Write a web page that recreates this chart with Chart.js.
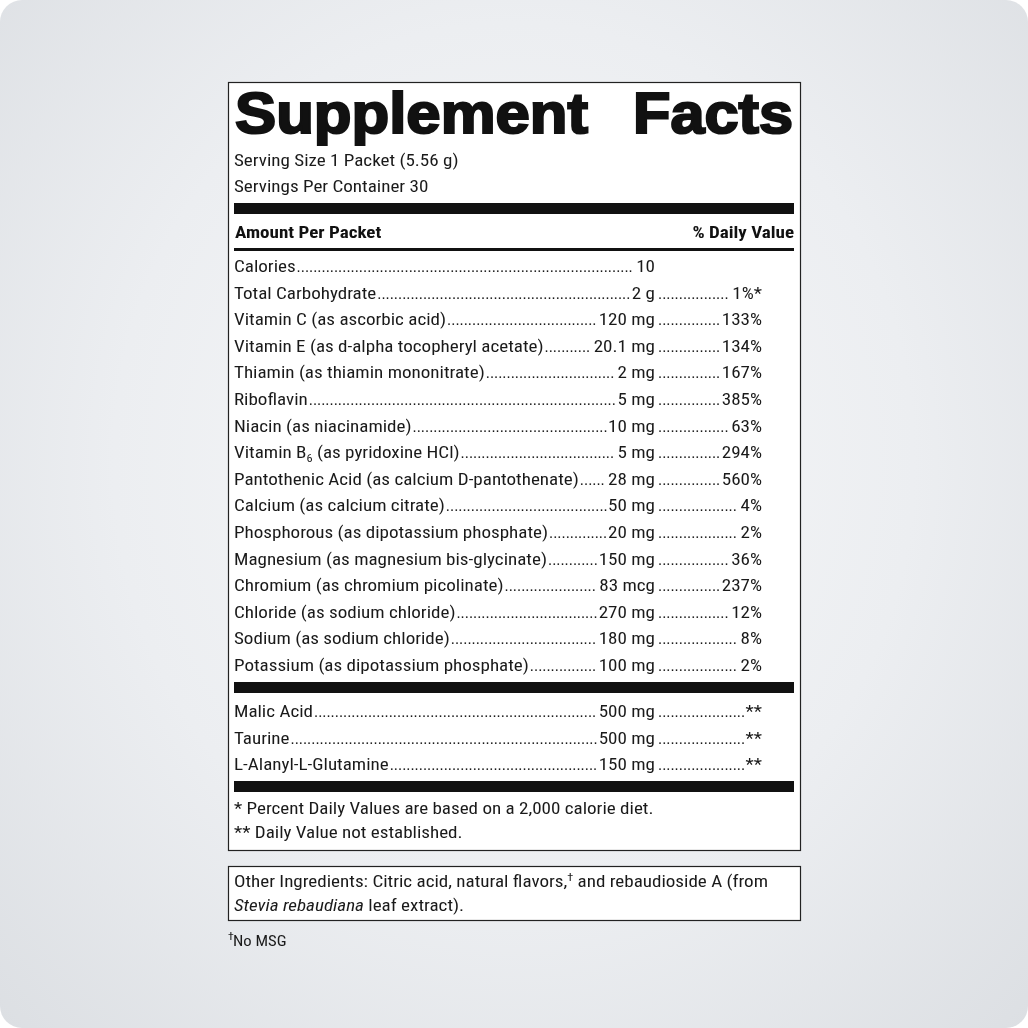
<!DOCTYPE html>
<html><head><meta charset="utf-8">
<script src="https://cdn.jsdelivr.net/npm/chart.js@4/dist/chart.umd.min.js"></script>
<style>
html,body{margin:0;padding:0;background:#fff;}
#bg{position:absolute;left:0;top:0;width:1028px;height:1028px;border-radius:22px;
background:radial-gradient(ellipse at 50% 45%,#f7f8f9 0%,#eceef1 55%,#dcdfe3 100%);}
canvas{position:absolute;left:0;top:0;}
</style></head><body>
<div id="bg"></div>
<canvas id="c" width="1028" height="1028"></canvas>
<script>
const title = ["Supplement","Facts"];
const servingLines = ["Serving Size 1 Packet (5.56 g)","Servings Per Container 30"];
const headerLeft = "Amount Per Packet", headerRight = "% Daily Value";
const nutrients = ["Calories","Total Carbohydrate","Vitamin C (as ascorbic acid)","Vitamin E (as d-alpha tocopheryl acetate)","Thiamin (as thiamin mononitrate)","Riboflavin","Niacin (as niacinamide)","Vitamin B|6| (as pyridoxine HCl)","Pantothenic Acid (as calcium D-pantothenate)","Calcium (as calcium citrate)","Phosphorous (as dipotassium phosphate)","Magnesium (as magnesium bis-glycinate)","Chromium (as chromium picolinate)","Chloride (as sodium chloride)","Sodium (as sodium chloride)","Potassium (as dipotassium phosphate)"];
const amounts = ["10","2 g","120 mg","20.1 mg","2 mg","5 mg","10 mg","5 mg","28 mg","50 mg","20 mg","150 mg","83 mcg","270 mg","180 mg","100 mg"];
const dailyValues = ["","1%*","133%","134%","167%","385%","63%","294%","560%","4%","2%","36%","237%","12%","8%","2%"];
const others = ["Malic Acid","Taurine","L-Alanyl-L-Glutamine"];
const otherAmounts = ["500 mg","500 mg","150 mg"];
const otherDV = ["**","**","**"];
const footnotes = ["* Percent Daily Values are based on a 2,000 calorie diet.","** Daily Value not established."];
const otherIngredients = ["Other Ingredients: Citric acid, natural flavors,|†| and rebaudioside A (from","/Stevia rebaudiana/ leaf extract)."];
const noMsg = "†No MSG";

const F = "'Liberation Sans Narrow','Roboto Condensed',sans-serif";
const SX = 1.19; // horizontal stretch for text
const L = 234, R = 794, AMT = 655, DVX = 762;

function txt(ctx, s, x, y){ ctx.save(); ctx.translate(x,y); ctx.scale(SX,1); ctx.fillText(s,0,0); ctx.restore(); return ctx.measureText(s).width*SX; }
function drawRich(ctx, s, x, y, size){
  s.split('|').forEach((p,i)=>{
    if(i%2){ ctx.font=(size*0.65)+'px '+F; const dy = p==='†'? -6 : 4; x+=txt(ctx,p,x,y+dy); }
    else p.split('/').forEach((q,j)=>{ ctx.font=(j%2?'italic ':'')+size+'px '+F; x+=txt(ctx,q,x,y); });
  });
  return x;
}
function dots(ctx, x1, x2, y){
  ctx.font='16px '+F; const dw = 4.15;
  for(let x=x1+1; x+dw<=x2; x+=dw) ctx.fillText('.',x,y);
}
function row(ctx, name, amt, dv, y){
  ctx.fillStyle='#1a1a1a'; ctx.textAlign='left';
  const ne = drawRich(ctx,name,L,y,16);
  ctx.font='16px '+F;
  const aw = ctx.measureText(amt).width*SX;
  dots(ctx, ne, AMT-aw, y);
  txt(ctx, amt, AMT-aw, y);
  if(dv){ const dw=ctx.measureText(dv).width*SX; dots(ctx, AMT+2, DVX-dw, y); txt(ctx, dv, DVX-dw, y); }
}

const plugin = {id:'label', afterDraw(chart){
  const ctx = chart.ctx; ctx.save(); ctx.textBaseline='alphabetic';
  ctx.fillStyle='#fff'; ctx.fillRect(228,82,573,769); ctx.fillRect(228,866,573,55);
  ctx.strokeStyle='#222'; ctx.lineWidth=1.2; ctx.strokeRect(228.5,82.5,572,768); ctx.strokeRect(228.5,866.5,572,54);
  ctx.fillStyle='#111'; ctx.font='bold 57px "Liberation Sans",Arial,sans-serif';
  ctx.strokeStyle='#111'; ctx.lineWidth=2.2;
  const w0 = ctx.measureText(title[0]).width, s0 = 353/w0;
  ctx.save(); ctx.translate(L+1,133); ctx.scale(s0,1); ctx.fillText(title[0],0,0); ctx.strokeText(title[0],0,0); ctx.restore();
  const w1 = ctx.measureText(title[1]).width, s1 = 160/w1;
  ctx.save(); ctx.translate(R-1-160,133); ctx.scale(s1,1); ctx.fillText(title[1],0,0); ctx.strokeText(title[1],0,0); ctx.restore();
  ctx.fillStyle='#1a1a1a'; ctx.font='16px '+F;
  txt(ctx,servingLines[0],L,166); txt(ctx,servingLines[1],L,192);
  ctx.fillStyle='#111';
  ctx.fillRect(L,203,R-L,11);
  ctx.font='bold 16px '+F; txt(ctx,headerLeft,L+1,238);
  txt(ctx,headerRight,R-ctx.measureText(headerRight).width*SX,238);
  ctx.fillRect(L,248,R-L,3);
  nutrients.forEach((n,i)=>row(ctx,n,amounts[i],dailyValues[i],272+i*26.6));
  ctx.fillStyle='#111'; ctx.fillRect(L,682,R-L,11);
  others.forEach((n,i)=>row(ctx,n,otherAmounts[i],otherDV[i],717+i*26.6));
  ctx.fillStyle='#111'; ctx.fillRect(L,781,R-L,11);
  ctx.fillStyle='#1a1a1a'; ctx.font='16px '+F;
  txt(ctx,footnotes[0],L,814); txt(ctx,footnotes[1],L,838);
  drawRich(ctx,otherIngredients[0],L,887,16); drawRich(ctx,otherIngredients[1],L,911,16);
  ctx.font='10px '+F; txt(ctx,'†',228,940); ctx.font='14px '+F; txt(ctx,noMsg.slice(1),233,946);
  ctx.restore();
}};

new Chart(document.getElementById('c'),{
  type:'bar',
  data:{labels:nutrients.map(n=>n.replace(/\|/g,'')),datasets:[{data:[],label:'rows'}]},
  options:{responsive:false,animation:false,
    plugins:{legend:{display:false},tooltip:{enabled:false}},
    scales:{x:{display:false},y:{display:false}}},
  plugins:[plugin]
});
</script></body></html>
